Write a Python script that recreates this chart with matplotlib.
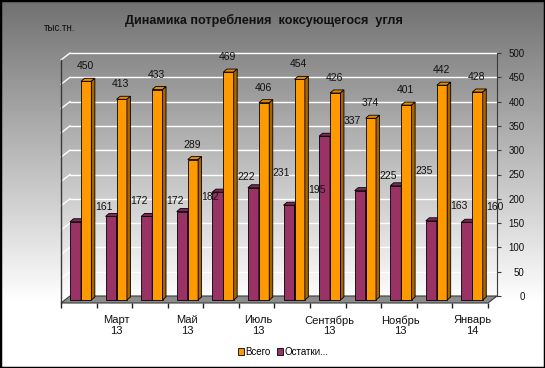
import numpy as np
import matplotlib.pyplot as plt
from matplotlib.patches import Polygon, Patch, Rectangle

plt.rcParams['font.family'] = ['Liberation Sans', 'DejaVu Sans']

months = ['Фев\n13', 'Март\n13', 'Апр\n13', 'Май\n13', 'Июнь\n13', 'Июль\n13',
          'Авг\n13', 'Сентябрь\n13', 'Окт\n13', 'Ноябрь\n13', 'Дек\n13', 'Январь\n14']
vsego = [450, 413, 433, 289, 469, 406, 454, 426, 374, 401, 442, 428]
ostatki = [161, 172, 172, 182, 222, 231, 195, 337, 225, 235, 163, 160]

ORANGE = ('#FF9900', '#E88A00', '#A86400')
PURPLE = ('#993366', '#7E2A54', '#5E1F3F')

fig = plt.figure(figsize=(5.45, 3.68), dpi=100)

# background gradient
bg = fig.add_axes([0, 0, 1, 1])
grad = np.clip(np.linspace(0.44, 1.12, 368), 0, 1)
bg.imshow(np.repeat(grad[:, None], 2, axis=1), cmap='gray', vmin=0, vmax=1,
          aspect='auto', extent=[0, 1, 0, 1])
bg.set_axis_off()
bg.add_patch(Rectangle((0, 0), 1, 1, transform=bg.transAxes, fill=False,
                       edgecolor='black', linewidth=2.5))

ax = fig.add_axes([70 / 545, (368 - 296) / 368, 427 / 545, 243 / 368])
ax.set_facecolor('none')
ax.set_xlim(0, 12)
ax.set_ylim(0, 500)

# depth offsets in data units
FX, FY = -9 / 35.58, -7 / 0.486      # front of floor
BY = -4 / 0.486                       # bar base
DX, DY = 3.5 / 35.58, 3 / 0.486       # bar depth

# walls / grid
for v in range(0, 501, 50):
    ax.plot([0, 12], [v, v], color='white', lw=1, zorder=1, clip_on=False)
    ax.plot([FX, 0], [v + FY, v], color='white', lw=1, zorder=1, clip_on=False)
ax.plot([FX, FX], [FY, 500 + FY], color='#3a3a3a', lw=1, zorder=2, clip_on=False)

floor = Polygon([(FX, FY), (12 + FX, FY), (12, 0), (0, 0)], closed=True,
                facecolor='#8c8c8c', edgecolor='#3a3a3a', lw=0.8, zorder=2,
                clip_on=False)
ax.add_patch(floor)
ax.vlines([k + FX for k in range(13)], FY - 10.5, FY, color='#222222', lw=1,
          clip_on=False, zorder=2)


def bar3d(x0, w, h, cols):
    x1 = x0 + w
    top = h + BY
    ax.bar(x0, h, width=w, bottom=BY, align='edge', color=cols[0],
           edgecolor='black', lw=0.6, zorder=3, clip_on=False)
    ax.add_patch(Polygon([(x0, top), (x0 + DX, top + DY), (x1 + DX, top + DY), (x1, top)],
                         closed=True, facecolor=cols[1], edgecolor='black', lw=0.6,
                         zorder=3, clip_on=False))
    ax.add_patch(Polygon([(x1, BY), (x1 + DX, BY + DY), (x1 + DX, top + DY), (x1, top)],
                         closed=True, facecolor=cols[2], edgecolor='black', lw=0.6,
                         zorder=3, clip_on=False))
    return x0 + w / 2, top


for i in range(12):
    cx, ty = bar3d(i + 0.0, 0.31, ostatki[i], PURPLE)
    ax.annotate(str(ostatki[i]), (cx, ty), xytext=(28, 15), textcoords='offset pixels',
                ha='center', va='center', fontsize=7.5, color='#111111', zorder=5)
    cx, ty = bar3d(i + 0.31, 0.29, vsego[i], ORANGE)
    ax.annotate(str(vsego[i]), (cx, ty), xytext=(-1, 15), textcoords='offset pixels',
                ha='center', va='center', fontsize=7.5, color='#111111', zorder=5)

# axes
for s in ['top', 'left', 'bottom']:
    ax.spines[s].set_visible(False)
ax.spines['right'].set_color('#3a3a3a')
ax.yaxis.tick_right()
ax.set_yticks(range(0, 501, 50))
ax.tick_params(axis='y', length=3, color='#3a3a3a', pad=17, labelsize=7,
               labelcolor='#111111')
for lab in ax.get_yticklabels():
    lab.set_ha('right')

ax.set_xticks([k + 0.5 + FX + 0.05 for k in range(1, 12, 2)])
ax.set_xticklabels([months[k] for k in range(1, 12, 2)], fontsize=8,
                   linespacing=1.05, color='#111111')
ax.tick_params(axis='x', length=0, pad=14)

fig.text(264 / 545, 1 - 20 / 368, 'Динамика потребления  коксующегося  угля',
         ha='center', va='center', fontsize=9.1, fontweight='bold', color='#111111')
fig.text(60 / 545, 1 - 28 / 368, 'тыс.тн.', ha='center', va='center',
         fontsize=7, color='#111111')

handles = [Patch(facecolor=ORANGE[0], edgecolor='black', lw=0.6),
           Patch(facecolor=PURPLE[0], edgecolor='black', lw=0.6)]
fig.legend(handles, ['Всего', 'Остатки...'], loc='center', ncol=2,
           bbox_to_anchor=(283 / 545, 1 - 352 / 368), frameon=False, fontsize=7,
           handlelength=0.7, handleheight=0.7, handletextpad=0.1, columnspacing=0.6)

fig.savefig('out.png', dpi=100)
